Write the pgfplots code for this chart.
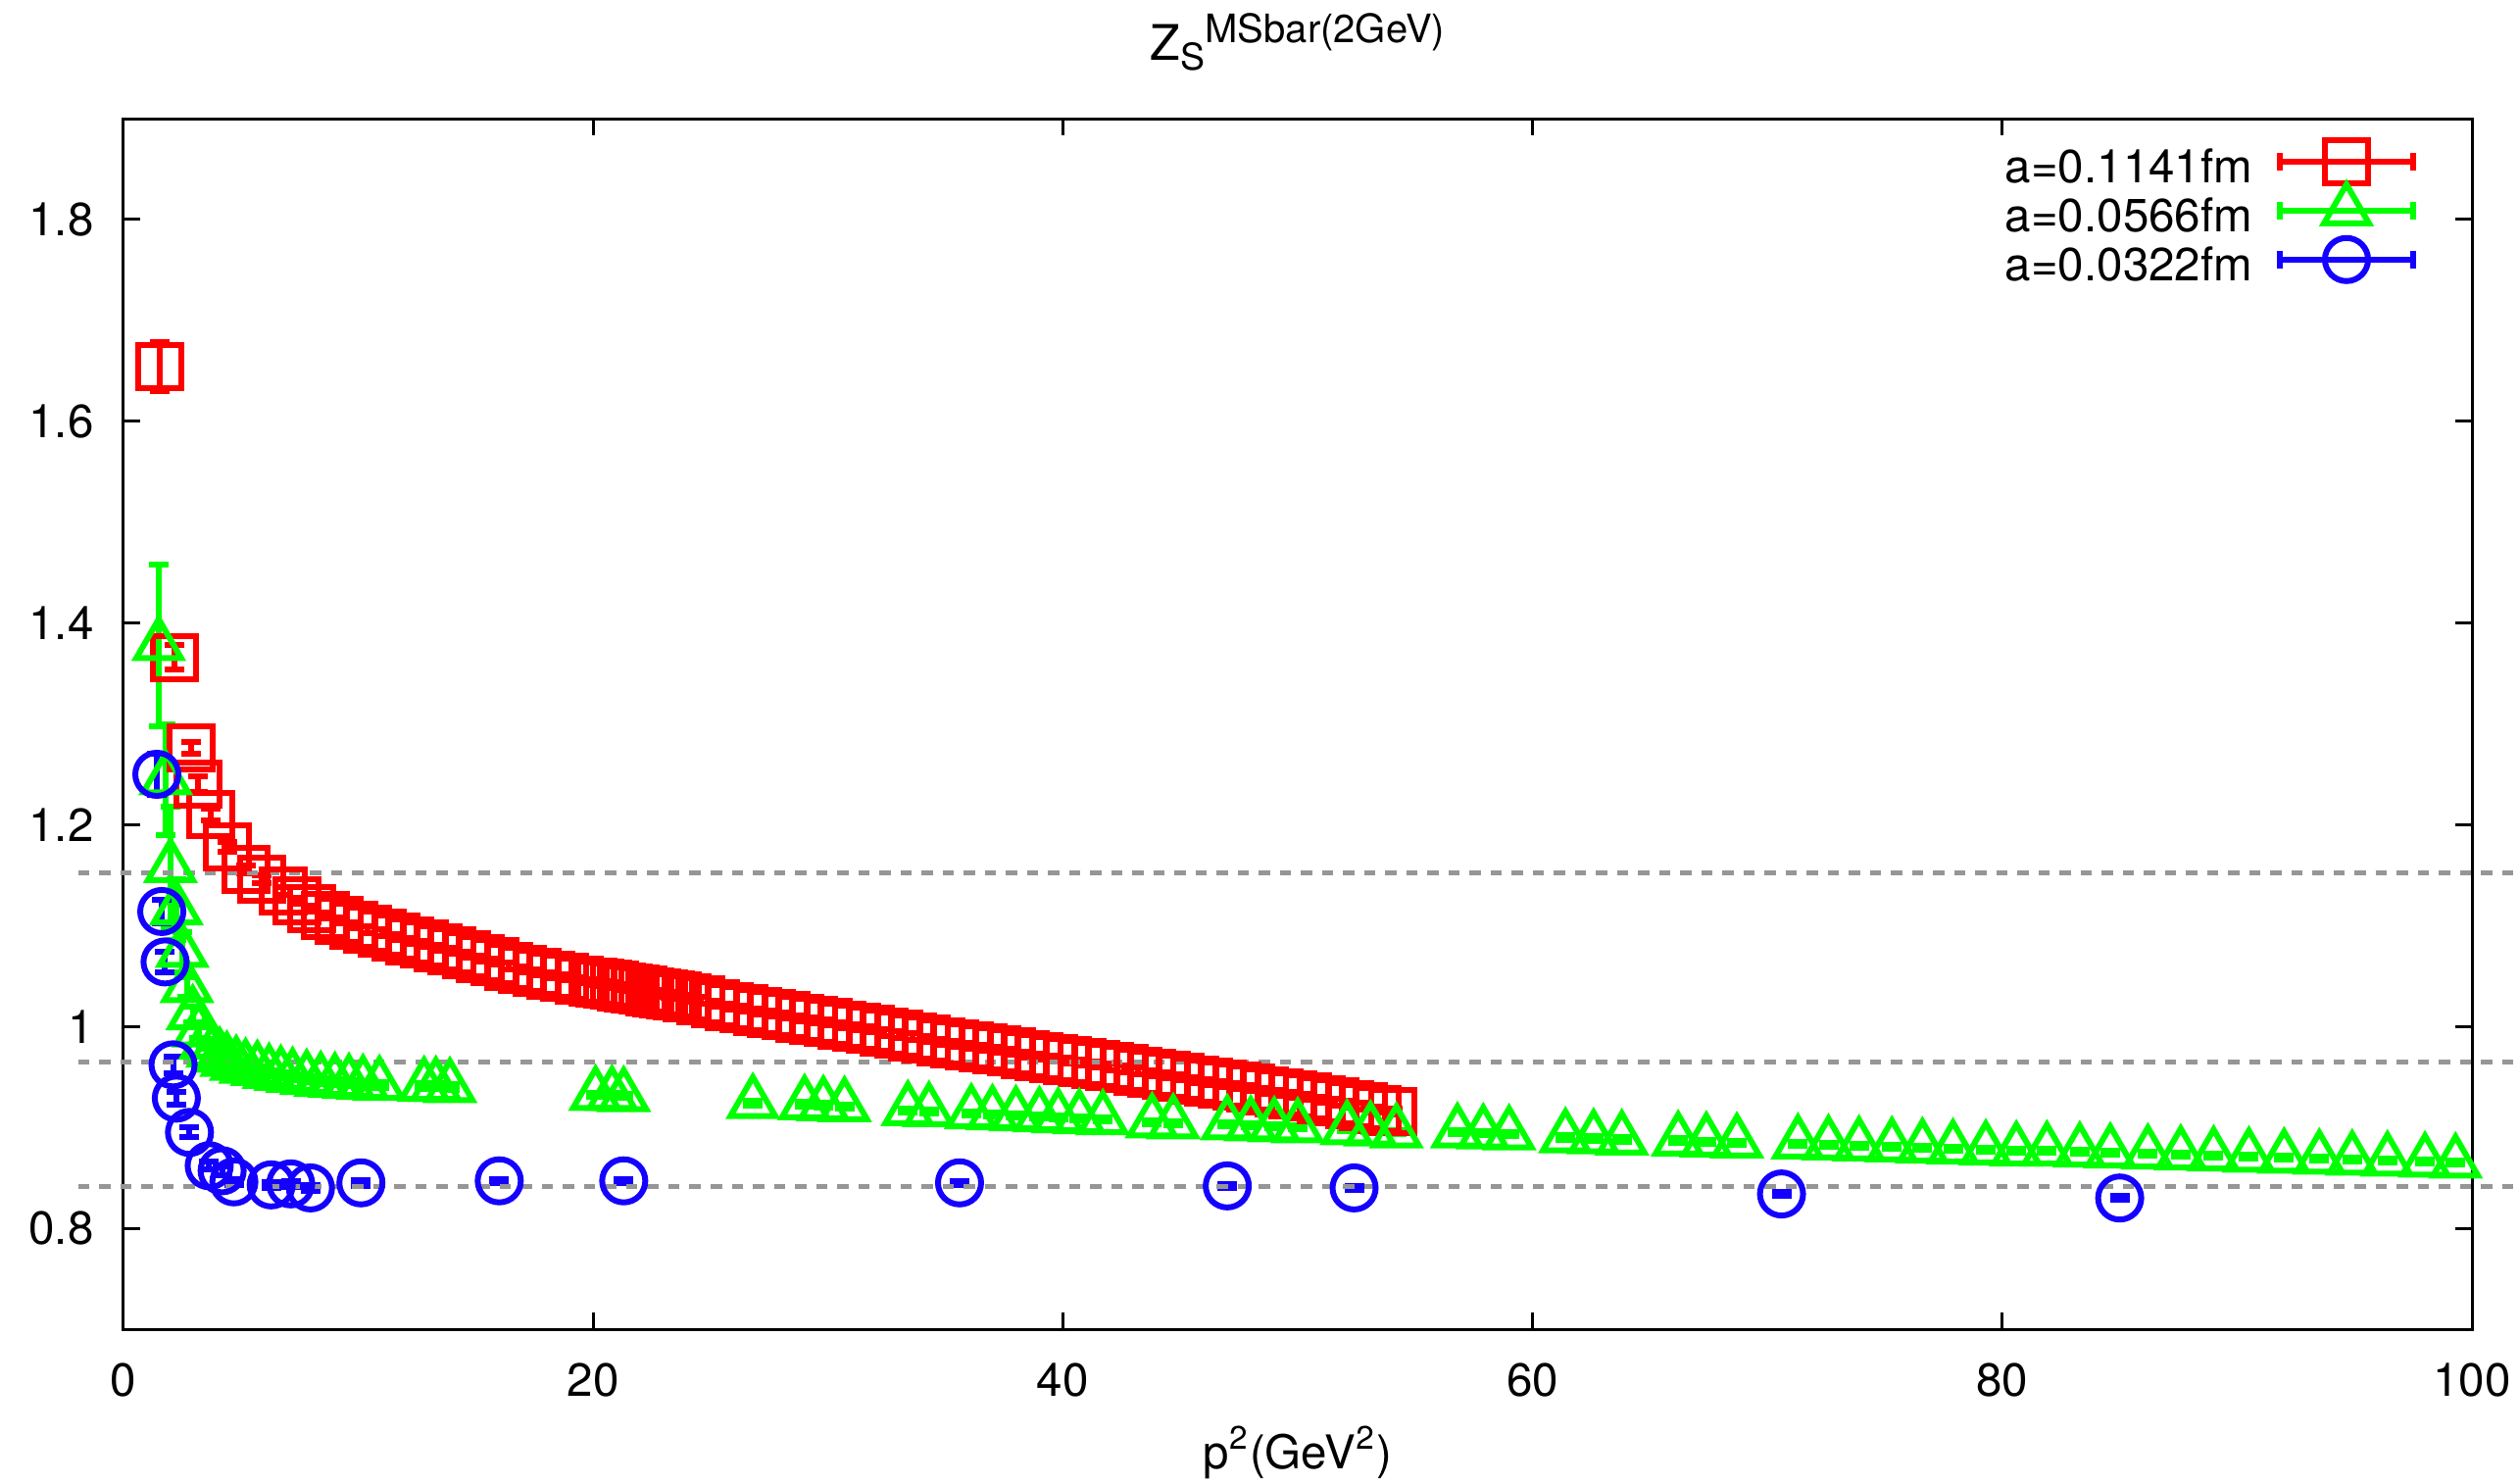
\documentclass[border=0pt]{standalone}
\usepackage{fontspec}
\setmainfont{TeX Gyre Heros}
\usepackage{pgfplots}
\pgfplotsset{compat=1.18}
\definecolor{dgray}{RGB}{150,150,150}
\definecolor{cred}{RGB}{255,0,0}
\definecolor{cgreen}{RGB}{0,255,0}
\definecolor{cblue}{RGB}{20,0,255}
\begin{document}
\begin{tikzpicture}
\begin{axis}[
  at={(0,0)}, anchor=south west,
  scale only axis, width=479.2pt, height=247pt,
  xmin=0, xmax=100, ymin=0.7, ymax=1.9,
  xtick={0,20,...,100}, ytick={0.8,1,1.2,1.4,1.6,1.8},
  minor tick num=0,
  tick align=inside, xtick pos=both, ytick pos=both,
  major tick length=3.4pt,
  every tick/.style={black, line width=0.6pt},
  axis line style={line width=0.6pt},
  /pgf/number format/assume math mode=true,
  tick label style={font=\fontsize{9.5}{11}\selectfont, inner sep=0pt},
  xticklabel shift=6.8pt, yticklabel shift=5.9pt,
  clip=false,
  xlabel={p\textsuperscript{2}(GeV\textsuperscript{2})},
  xlabel style={font=\fontsize{9.5}{11}\selectfont, at={(axis description cs:0.5,0)}, anchor=base, yshift=-28.4pt, inner sep=0pt},
  title={Z\raisebox{-2pt}{\fontsize{7.5}{8}\selectfont S}\raisebox{3.6pt}{\fontsize{8}{9}\selectfont MSbar(2GeV)}},
  title style={font=\fontsize{10}{12}\selectfont, at={(axis description cs:0.5,1)}, anchor=base, yshift=6pt, inner sep=0pt},
  legend style={draw=none, fill=none, at={(axis description cs:1,1)}, anchor=north east, xshift=-11.8pt, yshift=-3.8pt, font=\fontsize{9.5}{11}\selectfont, row sep=-0.6pt, column sep=5.6pt, inner sep=0pt, nodes={inner sep=0pt}},
  legend cell align=right, legend plot pos=right,
  legend image code/.code={%
    \draw[#1, mark=none, overlay] (0pt,1.7pt) -- (27.2pt,1.7pt);
    \draw[#1, mark=none, overlay] (0pt,-0.1pt) -- (0pt,3.5pt);
    \draw[#1, mark=none, overlay] (27.2pt,-0.1pt) -- (27.2pt,3.5pt);
    \draw[#1, overlay] plot coordinates {(13.6pt,1.7pt)};
    \path[draw=none, fill=none] (0pt,0pt) rectangle (27.2pt,6.4pt);
  },
]
% a = 0.1141 fm
\addplot[only marks, color=cred, line width=1.2pt, mark=square, mark size=4.4pt, mark options={solid, line width=1.2pt},
  error bars/.cd, y dir=both, y explicit, error bar style={line width=1.2pt, color=cred}, error mark options={rotate=90, mark size=2pt, line width=1.2pt, color=cred}]
coordinates {
(1.56,1.654) +- (0,0.024)
(2.19,1.366) +- (0,0.012)
(2.88,1.276) +- (0,0.006)
(3.18,1.240) +- (0,0.008)
(3.70,1.210) +- (0,0.006)
(4.43,1.178) +- (0,0.005)
(5.20,1.156) +- (0,0.004)
(5.90,1.146) +- (0,0.004)
(6.80,1.134) +- (0,0.004)
(7.40,1.125) +- (0,0.003)
(8.00,1.117) +- (0,0.003)
(8.60,1.110) +- (0,0.003)
(9.20,1.105) +- (0,0.003)
(9.80,1.100) +- (0,0.003)
(10.40,1.096) +- (0,0.003)
(11.00,1.093) +- (0,0.003)
(11.60,1.089) +- (0,0.003)
(12.20,1.085) +- (0,0.003)
(12.80,1.082) +- (0,0.003)
(13.40,1.078) +- (0,0.003)
(14.00,1.075) +- (0,0.003)
(14.60,1.071) +- (0,0.003)
(15.20,1.067) +- (0,0.003)
(15.80,1.064) +- (0,0.003)
(16.40,1.060) +- (0,0.003)
(17.00,1.057) +- (0,0.003)
(17.60,1.054) +- (0,0.003)
(18.20,1.051) +- (0,0.003)
(18.80,1.049) +- (0,0.003)
(19.40,1.046) +- (0,0.003)
(20.00,1.044) +- (0,0.003)
(20.30,1.043) +- (0,0.003)
(20.60,1.042) +- (0,0.003)
(20.90,1.041) +- (0,0.003)
(21.20,1.039) +- (0,0.003)
(21.50,1.038) +- (0,0.003)
(21.80,1.037) +- (0,0.003)
(22.10,1.036) +- (0,0.003)
(22.40,1.034) +- (0,0.003)
(22.70,1.033) +- (0,0.003)
(23.00,1.032) +- (0,0.003)
(23.30,1.031) +- (0,0.003)
(23.60,1.030) +- (0,0.003)
(24.00,1.028) +- (0,0.003)
(24.60,1.026) +- (0,0.003)
(25.20,1.023) +- (0,0.003)
(25.80,1.020) +- (0,0.003)
(26.40,1.018) +- (0,0.003)
(27.00,1.015) +- (0,0.003)
(27.60,1.013) +- (0,0.003)
(28.20,1.011) +- (0,0.003)
(28.80,1.008) +- (0,0.003)
(29.40,1.006) +- (0,0.003)
(30.00,1.004) +- (0,0.003)
(30.60,1.001) +- (0,0.003)
(31.20,0.999) +- (0,0.003)
(31.80,0.997) +- (0,0.003)
(32.40,0.994) +- (0,0.003)
(33.00,0.992) +- (0,0.003)
(33.60,0.990) +- (0,0.003)
(34.20,0.988) +- (0,0.003)
(34.80,0.985) +- (0,0.003)
(35.40,0.983) +- (0,0.003)
(36.00,0.981) +- (0,0.003)
(36.60,0.979) +- (0,0.003)
(37.20,0.977) +- (0,0.003)
(37.80,0.975) +- (0,0.003)
(38.40,0.972) +- (0,0.003)
(39.00,0.970) +- (0,0.003)
(39.60,0.968) +- (0,0.003)
(40.20,0.966) +- (0,0.003)
(40.80,0.964) +- (0,0.003)
(41.40,0.962) +- (0,0.003)
(42.00,0.960) +- (0,0.003)
(42.60,0.958) +- (0,0.003)
(43.20,0.956) +- (0,0.003)
(43.80,0.954) +- (0,0.003)
(44.40,0.952) +- (0,0.003)
(45.00,0.950) +- (0,0.003)
(45.60,0.947) +- (0,0.003)
(46.20,0.945) +- (0,0.003)
(46.80,0.943) +- (0,0.003)
(47.40,0.941) +- (0,0.003)
(48.00,0.939) +- (0,0.003)
(48.60,0.936) +- (0,0.003)
(49.20,0.934) +- (0,0.003)
(49.80,0.932) +- (0,0.003)
(50.40,0.930) +- (0,0.003)
(51.00,0.927) +- (0,0.003)
(51.60,0.925) +- (0,0.003)
(52.20,0.923) +- (0,0.003)
(52.80,0.921) +- (0,0.003)
(53.40,0.918) +- (0,0.003)
(54.05,0.916) +- (0,0.003)
};
\addlegendentry{a=0.1141fm}
% a = 0.0566 fm
\addplot[only marks, color=cgreen, line width=1.2pt, mark=triangle, mark size=5.3pt, mark options={solid, line width=1.2pt},
  error bars/.cd, y dir=both, y explicit, error bar style={line width=1.2pt, color=cgreen}, error mark options={rotate=90, mark size=2pt, line width=1.2pt, color=cgreen}]
coordinates {
(1.50,1.378) +- (0,0.080)
(1.80,1.245) +- (0,0.055)
(2.00,1.158) +- (0,0.060)
(2.25,1.116) +- (0,0.030)
(2.50,1.074) +- (0,0.020)
(2.70,1.039) +- (0,0.010)
(2.95,1.012) +- (0,0.008)
(3.20,0.995) +- (0,0.006)
(3.50,0.983) +- (0,0.005)
(3.80,0.975) +- (0,0.004)
(4.10,0.970) +- (0,0.004)
(4.40,0.966) +- (0,0.003)
(4.80,0.962) +- (0,0.003)
(5.20,0.959) +- (0,0.003)
(5.70,0.957) +- (0,0.003)
(6.20,0.954) +- (0,0.003)
(6.70,0.952) +- (0,0.003)
(7.20,0.950) +- (0,0.003)
(7.80,0.948) +- (0,0.003)
(8.40,0.946) +- (0,0.003)
(9.00,0.945) +- (0,0.003)
(9.60,0.944) +- (0,0.003)
(10.20,0.943) +- (0,0.003)
(10.90,0.942) +- (0,0.003)
(12.80,0.941) +- (0,0.003)
(13.30,0.941) +- (0,0.003)
(13.90,0.940) +- (0,0.003)
(20.10,0.932) +- (0,0.002)
(20.80,0.932) +- (0,0.002)
(21.30,0.931) +- (0,0.002)
(26.80,0.924) +- (0,0.002)
(29.00,0.923) +- (0,0.002)
(29.80,0.922) +- (0,0.002)
(30.70,0.921) +- (0,0.002)
(33.40,0.917) +- (0,0.002)
(34.30,0.916) +- (0,0.002)
(36.10,0.914) +- (0,0.002)
(37.00,0.913) +- (0,0.002)
(38.00,0.912) +- (0,0.002)
(39.00,0.911) +- (0,0.002)
(39.80,0.910) +- (0,0.002)
(40.70,0.909) +- (0,0.002)
(41.70,0.908) +- (0,0.002)
(43.80,0.905) +- (0,0.002)
(44.70,0.904) +- (0,0.002)
(47.00,0.903) +- (0,0.002)
(48.00,0.902) +- (0,0.002)
(49.00,0.901) +- (0,0.002)
(50.00,0.900) +- (0,0.002)
(52.10,0.898) +- (0,0.002)
(53.10,0.897) +- (0,0.002)
(54.20,0.895) +- (0,0.002)
(56.80,0.895) +- (0,0.002)
(57.90,0.894) +- (0,0.002)
(59.00,0.893) +- (0,0.002)
(61.40,0.890) +- (0,0.002)
(62.60,0.889) +- (0,0.002)
(63.80,0.888) +- (0,0.002)
(66.20,0.887) +- (0,0.002)
(67.40,0.886) +- (0,0.002)
(68.70,0.885) +- (0,0.002)
(71.30,0.884) +- (0,0.002)
(72.60,0.883) +- (0,0.002)
(73.90,0.882) +- (0,0.002)
(75.30,0.881) +- (0,0.002)
(76.60,0.880) +- (0,0.002)
(77.90,0.879) +- (0,0.002)
(79.30,0.878) +- (0,0.002)
(80.60,0.877) +- (0,0.002)
(81.90,0.877) +- (0,0.002)
(83.30,0.876) +- (0,0.002)
(84.60,0.875) +- (0,0.002)
(86.20,0.874) +- (0,0.002)
(87.60,0.873) +- (0,0.002)
(89.00,0.872) +- (0,0.002)
(90.50,0.871) +- (0,0.002)
(92.00,0.870) +- (0,0.002)
(93.50,0.869) +- (0,0.002)
(94.90,0.868) +- (0,0.002)
(96.40,0.867) +- (0,0.002)
(98.00,0.866) +- (0,0.002)
(99.30,0.865) +- (0,0.002)
};
\addlegendentry{a=0.0566fm}
% a = 0.0322 fm
\addplot[only marks, color=cblue, line width=1.2pt, mark=o, mark size=4.4pt, mark options={solid, line width=1.2pt},
  error bars/.cd, y dir=both, y explicit, error bar style={line width=1.2pt, color=cblue}, error mark options={rotate=90, mark size=2pt, line width=1.2pt, color=cblue}]
coordinates {
(1.42,1.250) +- (0,0.020)
(1.63,1.114) +- (0,0.012)
(1.77,1.064) +- (0,0.010)
(2.11,0.962) +- (0,0.008)
(2.25,0.929) +- (0,0.006)
(2.81,0.895) +- (0,0.005)
(3.65,0.862) +- (0,0.004)
(4.20,0.857) +- (0,0.004)
(4.70,0.846) +- (0,0.003)
(6.29,0.843) +- (0,0.003)
(7.12,0.844) +- (0,0.003)
(7.96,0.840) +- (0,0.003)
(10.11,0.845) +- (0,0.003)
(16.00,0.847) +- (0,0.002)
(21.30,0.847) +- (0,0.002)
(35.60,0.845) +- (0,0.002)
(47.00,0.842) +- (0,0.002)
(52.40,0.840) +- (0,0.002)
(70.60,0.834) +- (0,0.002)
(85.00,0.830) +- (0,0.002)
};
\addlegendentry{a=0.0322fm}
% reference lines
\addplot[forget plot, color=dgray, line width=1pt, dash pattern=on 2.3pt off 2pt] coordinates {(-1.92,1.1528) (103,1.1528)};
\addplot[forget plot, color=dgray, line width=1pt, dash pattern=on 2.3pt off 2pt] coordinates {(-1.92,0.965) (103,0.965)};
\addplot[forget plot, color=dgray, line width=1pt, dash pattern=on 2.3pt off 2pt] coordinates {(-1.92,0.8418) (103,0.8418)};
\end{axis}
\pgfresetboundingbox
\path[use as bounding box] (-25.2pt,-31.4pt) rectangle (488.8pt,271.2pt);
\end{tikzpicture}
\end{document}
